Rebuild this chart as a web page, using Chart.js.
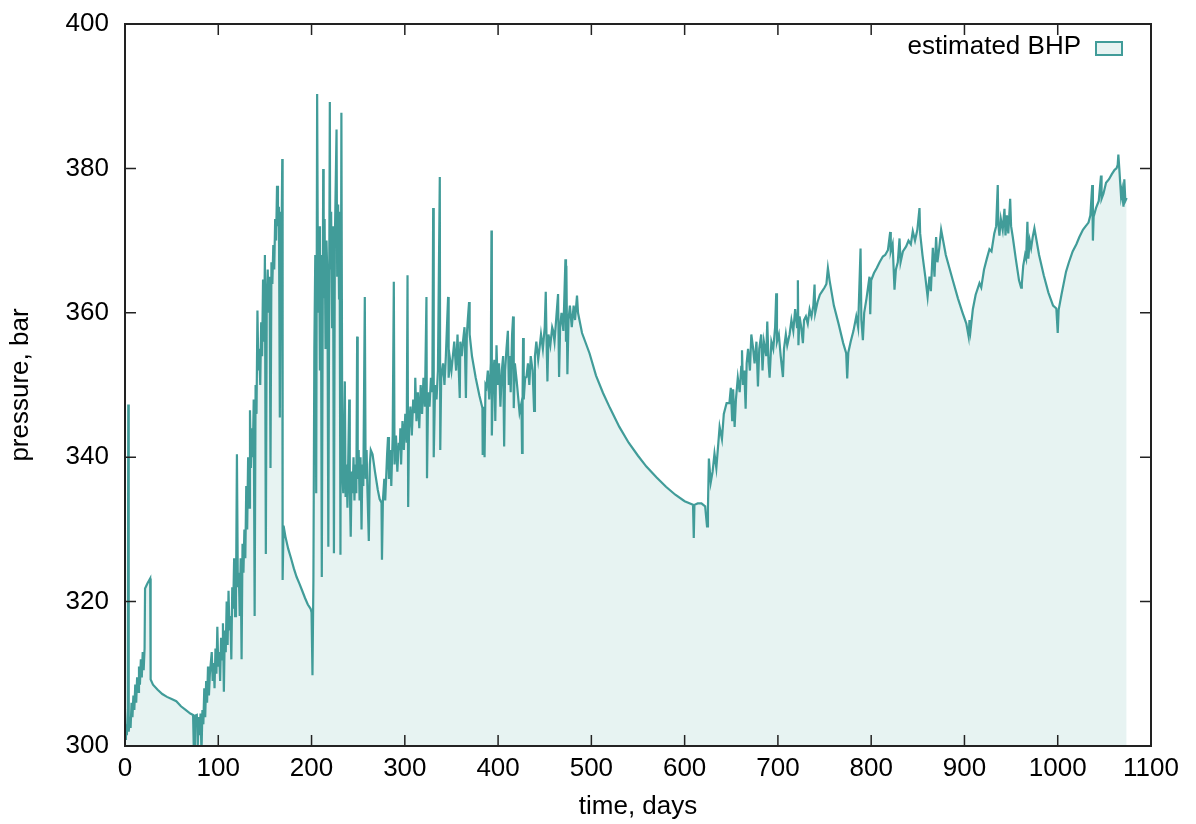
<!DOCTYPE html>
<html>
<head>
<meta charset="utf-8">
<title>estimated BHP</title>
<script src="https://cdn.jsdelivr.net/npm/chart.js@4"></script>
<style>
  html, body { margin: 0; padding: 0; background: #fff; }
  #wrap { width: 1196px; height: 824px; }
</style>
</head>
<body>
<div id="wrap"><canvas id="bhp-chart" width="1196" height="824"></canvas></div>
<script>
/***** Data *****/
// time, days
let DAYS = [
    0, 1, 2, 3, 3.5, 4, 5, 6, 7, 8, 9, 10, 11, 12, 13, 14, 15, 16, 17, 18, 19, 20, 21, 21.5, 24, 27, 27.5,
    30, 35, 40, 45, 50, 55, 60, 65, 70, 73,
    74, 75, 77, 78, 79, 80, 81, 82, 83, 84, 85, 86, 87, 88, 89, 90, 91, 93, 94, 95, 96, 97, 98, 99, 100,
    101, 102, 103, 104, 105, 106, 107, 108, 109, 110, 111, 112, 113, 114, 115, 116, 117, 118, 119, 120,
    121, 122, 123, 124, 125, 126, 127, 128, 129, 130, 131, 132, 133, 134, 135, 136, 137, 138, 139, 140,
    141, 142, 143, 144, 145, 146, 147, 148, 149, 150, 151, 152, 153, 154, 155, 156, 157, 158, 159, 160,
    161, 162, 163, 164, 165, 166, 167, 168, 168.6, 169, 170, 172, 175, 178, 181, 184, 187, 190, 193, 196, 199,
    200, 201, 202, 203, 204, 205, 206, 207, 208, 209, 210, 211, 212.5, 213, 214, 215, 216, 217, 218, 219.6,
    220, 221, 222, 223, 224, 225, 226.8, 227.5, 228.5, 229.5, 230, 231, 232, 233,
    234, 235.7, 236.5, 237.5, 238.5, 239.5, 240.4, 241, 242, 243, 244, 245, 246, 247, 248, 248.9, 249.5,
    250.5, 251.5, 252.5, 253.6, 254.5, 255.5, 257.1, 258, 259, 260, 261.4, 262.5, 263.5, 265.4, 268, 271,
    273, 275, 275.5, 276.5, 278, 279, 281, 282, 283, 284.5, 285.5, 287, 288.2, 289, 290.5, 292, 293.5,
    294.6, 295.2, 296, 297.5, 299, 300.5, 302, 302.9, 303.6, 304.5, 306, 307.5, 309, 310.7, 311.2, 312.5,
    314, 315.5, 317, 318.5, 320, 321.5, 323.2, 323.8, 325, 326.5, 328, 329.5, 330.4, 331, 332.5, 334,
    335.5, 337.5, 338, 339, 341, 342.5, 344, 346.4, 347, 348.5, 350, 351.8, 353, 355, 356.5, 358.9, 359.5,
    361, 362.5, 364, 365.5, 366.5, 367.5, 368.9, 369.5, 372, 376, 380, 383.2, 383.5, 384.5, 385.5, 386.5,
    387.5, 389, 390.5, 392.2, 392.9, 393.3, 394.5, 396, 397, 398.3, 399.5, 401, 402.5, 404, 405.4, 406.5,
    407.5, 409, 410.5, 411.5, 412.5, 413.5, 415, 416.1, 416.8, 418, 420, 421.4, 423, 425, 425.7, 426.3,
    426.8, 427.5, 429, 430.4, 432, 433.5, 435, 437, 438.6, 439.5, 441, 443, 444.6, 446, 448, 450, 451.1,
    452, 452.9, 454, 456, 458, 458.9, 460.5, 462.5, 464.3, 465.4, 466.5, 468, 470, 472.2, 472.8, 473.2,
    474.3, 475.5, 477, 479, 481, 482.5, 484.6, 485.7,
    490, 498, 505, 512.5, 520, 530, 540, 550, 559, 570, 580, 590, 600, 609, 609.8, 610.5, 614, 618, 622,
    624, 625, 626, 628, 630, 632, 634, 637.5, 640, 642, 645, 648, 649.5, 651, 652,
    653.6, 655, 657, 659, 660.7, 661.5, 662.5, 664, 665.4, 666.5, 668, 670, 671.5, 673.2, 675, 677, 678.6,
    680, 682.1, 683.5, 685, 687.5, 688.6, 690, 691.1, 693, 695, 697, 698.2, 699, 701, 703, 705.4, 706.5,
    708.5, 710, 712.5, 714.5, 716.5, 718.5, 720.5, 721.4, 722, 723.2, 725, 726.8, 728, 730, 732, 734, 736,
    738, 739.3, 740, 742.5, 745, 747.5, 750, 752, 753.6, 755.4, 760, 765, 770, 773.2, 774.3, 775.5, 778,
    781, 784, 786, 788.6, 789.5, 791.1, 792.5, 795, 798.2, 799, 800, 803, 806, 809, 812.5, 815, 818, 820.4,
    821, 823, 825, 826.5, 828.5, 830.4, 831.5, 834, 837.5, 840, 842.5, 844.6, 847, 849.5, 851.8, 852.5,
    855, 858, 860.5, 862.5, 864, 866.1, 867.9, 869.6, 871, 873, 875, 880, 887.5, 893, 898, 902, 904.5,
    905.4, 906.5, 909, 912, 916.1, 918, 921, 924, 926.8, 929, 932, 934, 935.7, 936.3, 937.5, 939, 941,
    942.9, 944, 945.5, 947, 949, 950, 951.8, 955, 958.5, 960.7, 961.5, 963, 965, 966.1, 967.5, 968.5, 970,
    971.5, 973.2, 975, 980, 985, 990, 995, 998.5, 1000, 1001, 1004, 1008.9, 1012, 1016, 1020, 1023.2,
    1027, 1030, 1033, 1035, 1037, 1037.7, 1038.5, 1041, 1044, 1046.4, 1047, 1049, 1051.8, 1055, 1058,
    1061, 1063, 1064.3, 1065, 1066, 1067.9, 1069, 1070.5, 1071.4, 1072.5, 1073.9
];
// pressure, bar
let BHP = [
    301, 303, 301.5, 305, 347.3, 302, 304, 302.5, 306, 304, 307, 305, 308.5, 306, 309.5, 307.5, 311, 308.5, 312, 309.5, 313, 310.5, 313.5, 321.8, 322.5, 323.2, 309.2,
    308.5, 307.8, 307.2, 306.8, 306.5, 306.2, 305.5, 305, 304.5, 304.3,
    298, 304.2, 304.3, 300, 304, 301.5, 304.5, 299, 305, 303, 308, 304, 309, 306, 311, 307, 310, 313, 309, 311.5, 308, 313.5, 310, 316.5, 311,
    313, 309, 315, 312, 317, 307.5, 316, 313, 320, 314, 321.5, 316, 318, 312, 322, 319, 326, 318, 320.5, 340.4,
    322, 324, 318, 326, 312, 328, 324, 330, 326, 336, 330, 340, 333, 346.5, 338.5, 344, 340, 348, 318, 350,
    346, 360.3, 352, 355, 350, 358.7, 354, 364.6, 356, 368, 326.6, 362, 366, 360, 365, 338.5, 367, 364, 369.4, 366,
    373, 370, 377.6, 372, 374.7, 345.5, 374, 373, 381.3, 323, 330.5, 329, 327.3, 326, 324.6, 323.4, 322.5, 321.5, 320.5, 319.6, 319,
    318.5, 309.8, 323, 355, 368, 335, 390.3, 360, 372, 352, 368, 323.4, 379.9, 362, 373, 355, 370, 365, 327.6, 389.2,
    366, 374, 358, 372, 326.7, 370, 385.4, 365, 375, 362, 374, 326.5, 387.7, 338,
    335, 350.5, 334.5, 339, 333, 341, 348, 336, 329, 338, 335, 340, 334, 339, 335, 356.7, 337,
    341, 334, 340, 330, 339, 336, 362.2, 337, 341, 335, 328.4, 339, 341, 340.4, 338, 335.5,
    334.2, 333.7, 325.8, 334, 337, 334, 340.4, 342.8, 337, 341, 336, 343, 364.3, 339, 343, 338, 342,
    341, 344, 339, 345, 341, 346, 342, 365.2, 333.1, 344, 347, 343, 348, 346.1, 351, 345,
    349, 344, 350, 346, 351, 347, 362.2, 337.1, 349, 347, 351, 349, 374.5, 340, 350, 348,
    352, 378.8, 341, 351, 353, 350, 354, 362.2, 351, 353.5, 352, 354.4, 356, 352, 357, 348.2, 356,
    354, 356.2, 358, 348.2, 357, 359, 361.5, 357, 354, 351, 348.5, 346.8, 340.3, 347, 340, 350,
    349.7, 352, 348, 353, 371.4, 343, 351, 353.5, 345, 355.5, 350, 353, 347, 352, 354, 341.5,
    352, 355, 357.5, 350, 354, 349, 357, 359.5, 346.8, 353, 350.5, 348.5, 346.2, 347.5, 340.6, 349,
    356.5, 348, 351, 351.1, 353, 350, 354, 352, 346.4, 354, 356, 353.5, 355.3, 357, 355, 358, 362.9,
    356, 350.5, 357, 355.5, 358, 357.6, 356, 359.5, 362.6, 351.1, 358, 360, 357.5, 367.4, 356, 366.5,
    351.5, 359, 361, 358, 361, 359, 362.4, 360,
    357.2, 354.4, 351.3, 348.9, 346.8, 344.2, 342, 340.2, 338.7, 337.2, 335.9, 334.8, 333.9, 333.4, 328.8, 333.4, 333.6, 333.6, 333.2,
    330.4, 333, 339.8, 336.5, 338, 340.5, 338.5, 344.2, 342.5, 346, 347.5, 347.5, 349.6, 345, 349.4,
    344.2, 348, 351, 349, 352.5, 354.8, 350, 352, 346.7, 353, 355, 352, 357, 355.3, 353, 356, 349.8,
    355, 357, 352, 356, 354, 358.8, 353, 351, 356, 355, 358, 362.7, 356, 357, 354, 351.1, 355,
    357, 355.5, 357, 359, 357.5, 360.5, 358, 364.5, 355.5, 359.5, 358, 355.8, 359, 359.5, 358.5, 360.5, 359.5,
    361, 363.9, 360, 361.5, 362.5, 363, 363.5, 364, 366.2, 364.5, 361, 358.5, 355.8, 354.4, 350.9, 354.5, 356,
    357.5, 359.5, 358, 368.9, 359, 356.2, 360, 362, 365, 359.8, 364.5, 365.5, 366.2, 367, 367.8, 368, 368.7, 371.2,
    368.5, 369.5, 363.2, 366, 367, 370.3, 367, 368.5, 369.2, 370, 369.5, 371.3, 370, 371.5, 374.5, 371,
    368, 365, 362.2, 365, 363, 369, 365, 370.5, 367, 369, 371.5, 368, 364.5, 362, 360, 358.5, 356.7,
    359, 357.5, 360.5, 362.5, 364.1, 363.5, 366, 367.5, 368.8, 368.5, 371, 372, 377.7, 372.4, 370.7, 373, 371.5,
    374.4, 370.7, 373.5, 371, 375.8, 372, 370.5, 367.5, 364.5, 363.5, 364, 366.5, 368, 367.5, 372.6, 367.5, 370,
    369, 370.5, 371.7, 368, 365.2, 362.8, 361, 360.6, 357.2, 360.4, 362.5, 365.7, 367, 368.5, 369.5, 370.5,
    371.5, 372, 372.5, 373.5, 377.7, 370, 373.3, 374.5, 375.5, 379, 375.8, 376.5, 378, 378.5, 379.2,
    379.8, 380, 380.5, 381.9, 380, 376.1, 377, 374.7, 378.5, 375.5, 375.9
];
let X_TICKS = [0, 100, 200, 300, 400, 500, 600, 700, 800, 900, 1000, 1100];
let Y_TICKS = [300, 320, 340, 360, 380, 400];
let SERIES_LABEL = "estimated BHP";

/***** Styles *****/
let LINE_COLOR = "#419c99";
let FILL_COLOR = "#e7f3f2";
let FONT = "'Liberation Sans', Arial, sans-serif";
let FONT_SIZE = 26;

Chart.defaults.font.family = FONT;
Chart.defaults.color = "#000";

//Frame round the plot, inward ticks on all four sides and the key (gnuplot look)
const gnuFrame = {
    id: 'gnuFrame',
    afterDatasetsDraw(chart) {
        let ctx = chart.ctx;
        let area = chart.chartArea;
        let xs = chart.scales.x;
        let ys = chart.scales.y;
        let len = 11;
        ctx.save();
        ctx.strokeStyle = "#222";
        ctx.lineWidth = 1.5;
        ctx.beginPath();
        X_TICKS.forEach(function (v) {
            let px = xs.getPixelForValue(v);
            ctx.moveTo(px, area.bottom); ctx.lineTo(px, area.bottom - len);
            ctx.moveTo(px, area.top); ctx.lineTo(px, area.top + len);
        });
        Y_TICKS.forEach(function (v) {
            let py = ys.getPixelForValue(v);
            ctx.moveTo(area.left, py); ctx.lineTo(area.left + len, py);
            ctx.moveTo(area.right, py); ctx.lineTo(area.right - len, py);
        });
        ctx.stroke();
        ctx.lineWidth = 2;
        ctx.strokeRect(area.left, area.top, area.right - area.left, area.bottom - area.top);

        //Key: text then sample box, top right inside the frame
        let ds = chart.data.datasets[0];
        let boxX = area.right - 55, boxY = area.top + 18;
        ctx.fillStyle = ds.backgroundColor;
        ctx.fillRect(boxX, boxY, 26, 13);
        ctx.strokeStyle = ds.borderColor;
        ctx.lineWidth = 2;
        ctx.strokeRect(boxX, boxY, 26, 13);
        ctx.fillStyle = "#000";
        ctx.font = FONT_SIZE + "px " + FONT;
        ctx.textAlign = "right";
        ctx.textBaseline = "middle";
        ctx.fillText(ds.label, area.right - 70, boxY + 5);
        ctx.restore();
    }
};

let points = DAYS.map(function (d, i) { return {x: d, y: BHP[i]}; });

new Chart(document.getElementById("bhp-chart"), {
    type: 'line',
    data: {
        datasets: [{
            label: SERIES_LABEL,
            data: points,
            borderColor: LINE_COLOR,
            backgroundColor: FILL_COLOR,
            borderWidth: 2.2,
            pointRadius: 0,
            tension: 0,
            fill: 'start'
        }]
    },
    options: {
        responsive: false,
        animation: false,
        layout: {padding: {top: 24, right: 45, left: 0, bottom: 0}},
        plugins: {
            legend: {display: false},
            tooltip: {enabled: false}
        },
        scales: {
            x: {
                type: 'linear',
                min: 0,
                max: 1100,
                afterFit: function (scale) { scale.height = 78; },
                afterBuildTicks: function (scale) { scale.ticks = X_TICKS.map(function (v) { return {value: v}; }); },
                grid: {display: false, drawTicks: false},
                border: {display: false},
                ticks: {padding: 7, font: {size: FONT_SIZE}, maxRotation: 0, callback: function (v) { return String(v); }},
                title: {display: true, text: "time, days", font: {size: FONT_SIZE}, padding: {top: 4, bottom: 2}}
            },
            y: {
                min: 300,
                max: 400,
                afterFit: function (scale) {
                    scale.width = 125;
                    scale.paddingTop = 0;
                    scale.paddingBottom = 0;
                },
                afterBuildTicks: function (scale) { scale.ticks = Y_TICKS.map(function (v) { return {value: v}; }); },
                grid: {display: false, drawTicks: false},
                border: {display: false},
                ticks: {padding: 16, font: {size: FONT_SIZE}, callback: function (v) { return String(v); }},
                title: {display: true, text: "pressure, bar", font: {size: FONT_SIZE}, padding: {top: 5, bottom: 4}}
            }
        }
    },
    plugins: [gnuFrame]
});
</script>
</body>
</html>
